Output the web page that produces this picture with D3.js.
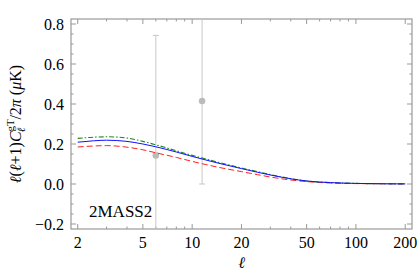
<!DOCTYPE html>
<html>
<head>
<meta charset="utf-8">
<script src="https://cdn.jsdelivr.net/npm/d3@7"></script>
<style>
  body { margin: 0; background: #fff; }
</style>
</head>
<body>
<svg id="svgMain" width="417" height="275" font-family="'Liberation Serif', 'Times New Roman', 'DejaVu Serif', serif"></svg>
<script>
// data
const ells = [2, 2.5, 3, 4, 5, 6, 8, 10, 12, 15, 20, 25, 30, 40, 50, 70, 100, 150, 200];
const blueVals  = [0.209, 0.216, 0.219, 0.213, 0.200, 0.186, 0.160, 0.138, 0.121, 0.101, 0.077, 0.059, 0.045, 0.026, 0.015, 0.007, 0.003, 0.001, 0.0005];
const redVals   = [0.185, 0.190, 0.192, 0.184, 0.171, 0.156, 0.133, 0.113, 0.098, 0.081, 0.062, 0.047, 0.035, 0.020, 0.012, 0.005, 0.002, 0.001, 0.0005];
const greenVals = [0.228, 0.234, 0.236, 0.230, 0.213, 0.196, 0.166, 0.143, 0.126, 0.105, 0.080, 0.062, 0.047, 0.027, 0.015, 0.007, 0.003, 0.001, 0.0005];

const pointEll = [6, 11.5];
const pointVal = [0.143, 0.415];
const pointErr = [0.6, 0.415];

const xTicks = [2, 5, 10, 20, 50, 100, 200];
const xMinor = [3, 4, 6, 7, 8, 9, 30, 40, 60, 70, 80, 90];
const yTicks = [-0.2, 0, 0.2, 0.4, 0.6, 0.8];

let svgMain = d3.select("#svgMain");
const margin = { top: 19, right: 5, bottom: 46, left: 71 };
const plotWidth = 417 - margin.left - margin.right;
const plotHeight = 275 - margin.top - margin.bottom;

const xScale = d3.scaleLog().domain([1.82, 220]).range([0, plotWidth]);
const yScale = d3.scaleLinear().domain([-0.225, 0.825]).range([plotHeight, 0]);

const frameColor = "#999";
const plot = svgMain.append("g")
    .attr("transform", "translate(" + margin.left + "," + margin.top + ")");

svgMain.append("defs").append("clipPath").attr("id", "clip")
    .append("rect").attr("width", plotWidth).attr("height", plotHeight);

// minor y ticks every 0.05
let yMinor = [];
for (let i = -4; i <= 16; i++) {
    if (i % 4 !== 0) yMinor.push(i * 0.05);
}

const ticks = plot.append("g").attr("stroke", frameColor).attr("stroke-width", 1);
xTicks.concat(xMinor).forEach(t => {
    let len = xTicks.includes(t) ? 5 : 2.5;
    let x = xScale(t);
    ticks.append("line").attr("x1", x).attr("x2", x).attr("y1", plotHeight).attr("y2", plotHeight - len);
    ticks.append("line").attr("x1", x).attr("x2", x).attr("y1", 0).attr("y2", len);
});
yTicks.concat(yMinor).forEach(t => {
    let len = yTicks.some(m => Math.abs(m - t) < 1e-9) ? 5 : 2.5;
    let y = yScale(t);
    ticks.append("line").attr("x1", 0).attr("x2", len).attr("y1", y).attr("y2", y);
    ticks.append("line").attr("x1", plotWidth).attr("x2", plotWidth - len).attr("y1", y).attr("y2", y);
});

// frame
plot.append("rect")
    .attr("width", plotWidth).attr("height", plotHeight)
    .attr("fill", "none").attr("stroke", frameColor).attr("stroke-width", 1.2);

// tick labels
plot.selectAll(".xlab").data(xTicks).enter().append("text")
    .attr("x", d => xScale(d)).attr("y", plotHeight + 19)
    .attr("text-anchor", "middle").attr("font-size", "16px")
    .text(d => d);
plot.selectAll(".ylab").data(yTicks).enter().append("text")
    .attr("x", -7).attr("y", d => yScale(d) + 5.5)
    .attr("text-anchor", "end").attr("font-size", "16px")
    .text(d => d3.format(".1f")(d));

// curves + points, clipped to the frame
const clipped = plot.append("g").attr("clip-path", "url(#clip)");
const line = d3.line()
    .x((d, i) => xScale(ells[i]))
    .y(d => yScale(d))
    .curve(d3.curveMonotoneX);

pointEll.forEach((l, i) => {
    let x = xScale(l);
    let y0 = yScale(pointVal[i] - pointErr[i]);
    let y1 = yScale(pointVal[i] + pointErr[i]);
    clipped.append("line").attr("x1", x).attr("x2", x).attr("y1", y0).attr("y2", y1)
        .attr("stroke", "#c8c8c8").attr("stroke-width", 1);
    [y0, y1].forEach(y => {
        clipped.append("line").attr("x1", x - 3).attr("x2", x + 3).attr("y1", y).attr("y2", y)
            .attr("stroke", "#c8c8c8").attr("stroke-width", 1);
    });
    clipped.append("circle").attr("cx", x).attr("cy", yScale(pointVal[i])).attr("r", 3.3)
        .attr("fill", "#bbbbbb");
});

clipped.append("path").attr("d", line(redVals))
    .attr("fill", "none").attr("stroke", "#ff2020").attr("stroke-width", 1)
    .attr("stroke-dasharray", "6,3");
clipped.append("path").attr("d", line(greenVals))
    .attr("fill", "none").attr("stroke", "#1a8a1a").attr("stroke-width", 1.1)
    .attr("stroke-dasharray", "5,2,1.5,2");
clipped.append("path").attr("d", line(blueVals))
    .attr("fill", "none").attr("stroke", "#1010ff").attr("stroke-width", 1);

// label inside
plot.append("text")
    .attr("x", 18).attr("y", 198)
    .attr("font-size", "17px")
    .text("2MASS2");

// x label
svgMain.append("text")
    .attr("x", margin.left + xScale(20)).attr("y", 268)
    .attr("text-anchor", "middle").attr("font-size", "16px")
    .attr("font-style", "italic")
    .text("ℓ");

// y label
const yl = svgMain.append("text")
    .attr("transform", "translate(21," + (margin.top + yScale(0.3)) + ") rotate(-90)")
    .attr("text-anchor", "middle").attr("font-size", "16px");
yl.append("tspan").attr("font-style", "italic").text("ℓ");
yl.append("tspan").text("(");
yl.append("tspan").attr("font-style", "italic").text("ℓ");
yl.append("tspan").text("+1)");
yl.append("tspan").attr("font-style", "italic").text("C");
yl.append("tspan").attr("font-size", "11px").attr("dy", -7).text("gT");
yl.append("tspan").attr("font-size", "11px").attr("font-style", "italic").attr("dx", -13).attr("dy", 11).text("ℓ");
yl.append("tspan").attr("dx", 8).attr("dy", -4).text("/2");
yl.append("tspan").attr("font-style", "italic").text("π");
yl.append("tspan").text(" (");
yl.append("tspan").attr("font-style", "italic").text("μ");
yl.append("tspan").text("K)");
</script>
</body>
</html>
